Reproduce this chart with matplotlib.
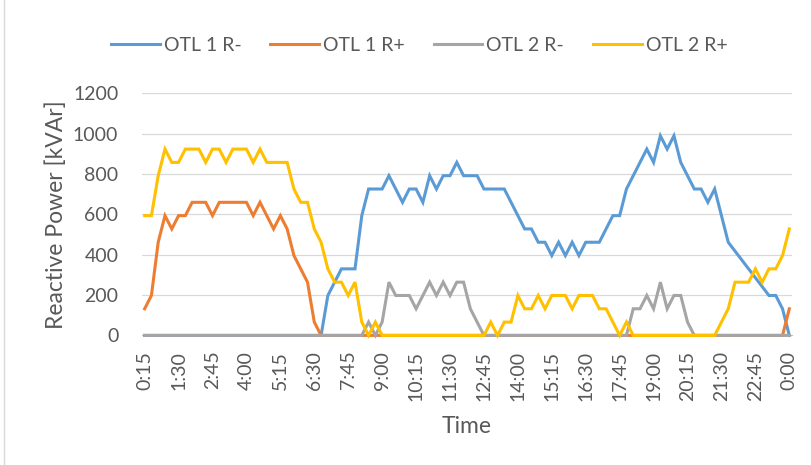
import matplotlib
matplotlib.use("Agg")
import matplotlib.pyplot as plt
from matplotlib.lines import Line2D

# 15-minute intervals, 0:15 ... 23:45, 0:00
times = [f"{(m // 60) % 24}:{m % 60:02d}" for m in range(15, 24 * 60 + 15, 15)]

otl1_rminus = [0] * 27 + [
    198, 264, 330, 330, 330, 594, 726, 726, 726, 792, 726, 660, 726, 726, 660,
    792, 726, 792, 792, 858, 792, 792, 792, 726, 726, 726, 726, 660, 594, 528,
    528, 462, 462, 396, 462, 396, 462, 396, 462, 462, 462, 528, 594, 594, 726,
    792, 858, 924, 858, 990, 924, 990, 858, 792, 726, 726, 660, 726, 594, 462,
    418, 374, 330, 286, 242, 198, 198, 132, 0]

otl1_rplus = [
    132, 198, 462, 594, 528, 594, 594, 660, 660, 660, 594, 660, 660, 660, 660,
    660, 594, 660, 594, 528, 594, 528, 396, 330, 264, 66] + [0] * 69 + [132]

otl2_rminus = [0] * 33 + [
    66, 0, 66, 264, 198, 198, 198, 132, 198, 264, 198, 264, 198, 264, 264,
    132, 66] + [0] * 22 + [
    132, 132, 198, 132, 264, 132, 198, 198, 66] + [0] * 15

otl2_rplus = [
    594, 594, 792, 924, 858, 858, 924, 924, 924, 858, 924, 924, 858, 924, 924,
    924, 858, 924, 858, 858, 858, 858, 726, 660, 660, 528, 462, 330, 264, 264,
    198, 264, 66, 0, 66] + [0] * 16 + [
    66, 0, 66, 66, 198, 132, 132, 198, 132, 198, 198, 198, 132, 198, 198,
    198, 132, 132, 66, 0, 66] + [0] * 13 + [
    66, 132, 264, 264, 264, 330, 264, 330, 330, 396, 528]

series = [
    ("OTL 1 R-", otl1_rminus, "#5B9BD5"),
    ("OTL 1 R+", otl1_rplus, "#ED7D31"),
    ("OTL 2 R-", otl2_rminus, "#A5A5A5"),
    ("OTL 2 R+", otl2_rplus, "#FFC000"),
]

plt.rcParams["font.family"] = ["Lato", "DejaVu Sans"]
text_color = "#595959"

fig = plt.figure(figsize=(8.11, 4.65), dpi=100)
ax = fig.add_axes([0.175, 0.2787, 0.8016, 0.5204])

x = list(range(len(times)))
for name, vals, color in series:
    ax.plot(x, vals, color=color, linewidth=2.2, label=name, clip_on=False,
            solid_joinstyle="miter", zorder=3)

ax.set_xlim(-0.4, 95.4)
ax.set_ylim(0, 1200)
ax.set_yticks(range(0, 1201, 200))
ax.set_xticks(x[::5])
ax.set_xticklabels(times[::5], rotation=90)
ax.tick_params(axis="both", length=0, labelsize=14, colors=text_color)
ax.tick_params(axis="x", pad=11)
ax.tick_params(axis="y", pad=17)
ax.grid(axis="y", color="#D9D9D9", linewidth=0.9)
ax.set_axisbelow(True)
for s in ["top", "right", "left"]:
    ax.spines[s].set_visible(False)
ax.spines["bottom"].set_color("#BFBFBF")

ax.set_ylabel("Reactive Power [kVAr]", fontsize=16.5, color=text_color, labelpad=4)
ax.set_xlabel("Time", fontsize=16.5, color=text_color, labelpad=11)

handles, labels = ax.get_legend_handles_labels()
fig.legend(handles, labels, loc="center", bbox_to_anchor=(0.517, 0.903),
           ncol=4, frameon=False, fontsize=14, labelcolor=text_color,
           handlelength=2.5, handletextpad=0.2, columnspacing=1.5)

fig.add_artist(Line2D([4 / 811, 4 / 811], [0, 1], transform=fig.transFigure,
                      color="#D9D9D9", linewidth=1))

fig.savefig("out.png", dpi=100)
